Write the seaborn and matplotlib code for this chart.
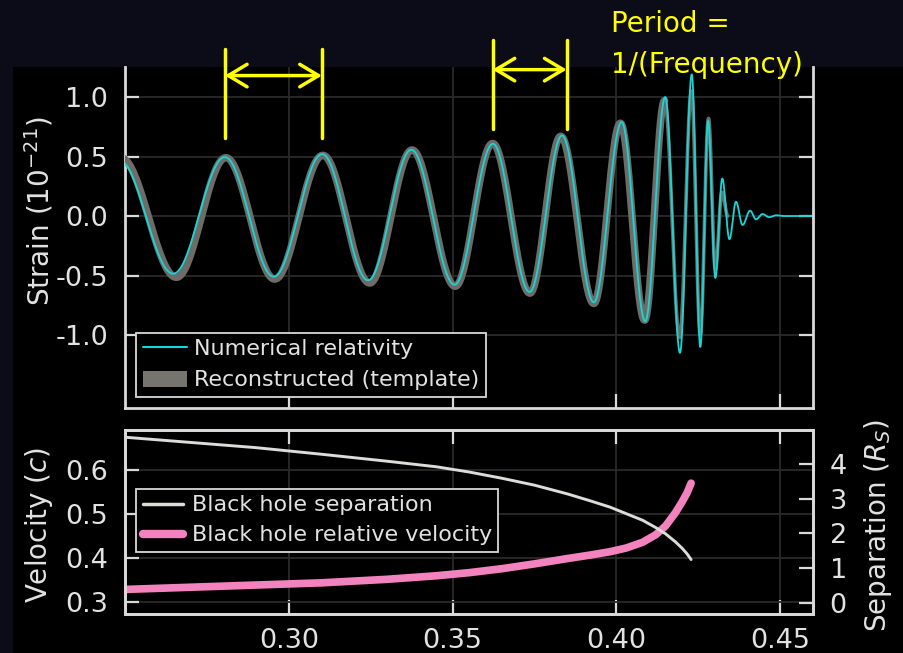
import numpy as np
import pandas as pd
import matplotlib
matplotlib.use("Agg")
import matplotlib.pyplot as plt
import seaborn as sns
from matplotlib.patches import Rectangle, Patch
from matplotlib.lines import Line2D

# ---------------- data ----------------
# Numerical relativity waveform: successive extrema (time s, strain 1e-21)
nr_time = [0.2482, 0.2647, 0.2805, 0.2954, 0.3102, 0.3242, 0.3374, 0.3506,
           0.3623, 0.3735, 0.3834, 0.3931, 0.4016, 0.4088, 0.4149, 0.4194,
           0.4230, 0.4256, 0.4280, 0.4302, 0.4323, 0.4345, 0.4365, 0.4385,
           0.4408, 0.4426, 0.4446, 0.4466, 0.4487, 0.4510, 0.4595]
nr_strain = [0.47, -0.485, 0.495, -0.51, 0.52, -0.54, 0.557, -0.577,
             0.607, -0.638, 0.677, -0.725, 0.79, -0.885, 1.00, -1.15,
             1.19, -1.10, 0.80, -0.52, 0.315, -0.195, 0.12, -0.075,
             0.045, -0.028, 0.017, -0.010, 0.006, 0.0, 0.0]

# Reconstructed template (inspiral part, thick band): successive extrema
tp_time = [0.2487, 0.2657, 0.2808, 0.2957, 0.3104, 0.3247, 0.3376, 0.3508,
           0.3622, 0.3736, 0.3830, 0.3931, 0.4012, 0.4086, 0.4147]
tp_strain = [0.49, -0.515, 0.49, -0.53, 0.51, -0.563, 0.555, -0.59,
             0.61, -0.648, 0.67, -0.735, 0.78, -0.875, 0.97]
# Reconstructed template (merger part, thin)
tp2_time = [0.4147, 0.4193, 0.4229, 0.4256, 0.4281, 0.4302, 0.4322, 0.4340]
tp2_strain = [0.97, -1.02, 1.05, -1.0, 0.82, -0.45, 0.20, 0.0]

# Lower panel
bh_time = [0.250, 0.270, 0.290, 0.310, 0.330, 0.345, 0.355, 0.365, 0.375,
           0.385, 0.392, 0.398, 0.403, 0.408, 0.412, 0.415, 0.418, 0.420,
           0.4215, 0.4228]
bh_velocity = [0.328, 0.333, 0.338, 0.343, 0.351, 0.359, 0.366, 0.375, 0.386,
               0.398, 0.406, 0.4135, 0.422, 0.435, 0.452, 0.472, 0.502, 0.526,
               0.546, 0.569]
bh_separation = [4.77, 4.62, 4.47, 4.28, 4.08, 3.92, 3.77, 3.59, 3.39,
                 3.14, 2.94, 2.76, 2.57, 2.38, 2.17, 1.99, 1.76, 1.58,
                 1.42, 1.25]

x_ticks = [0.30, 0.35, 0.40, 0.45]
x_labels = ["0.30", "0.35", "0.40", "0.45"]
strain_ticks = [1.0, 0.5, 0.0, -0.5, -1.0]
strain_labels = ["1.0", "0.5", "0.0", "-0.5", "-1.0"]
vel_ticks = [0.3, 0.4, 0.5, 0.6]
vel_labels = ["0.3", "0.4", "0.5", "0.6"]
sep_ticks = [0, 1, 2, 3, 4]
sep_labels = ["0", "1", "2", "3", "4"]

# period brackets (time of the two peaks)
bracket1 = [0.2805, 0.3101]
bracket2 = [0.3622, 0.3848]


def smooth_through_extrema(ts, hs, n=40):
    xs, ys = [], []
    for i in range(len(ts) - 1):
        u = np.linspace(0, 1, n, endpoint=False)
        xs.append(ts[i] + (ts[i + 1] - ts[i]) * u)
        ys.append((hs[i] + hs[i + 1]) / 2 + (hs[i] - hs[i + 1]) / 2 * np.cos(np.pi * u))
    xs.append([ts[-1]])
    ys.append([hs[-1]])
    return np.concatenate(xs), np.concatenate(ys)


nr_x, nr_y = smooth_through_extrema(nr_time, nr_strain)
tp_x, tp_y = smooth_through_extrema(tp_time, tp_strain)
tp2_x, tp2_y = smooth_through_extrema(tp2_time, tp2_strain)
df_nr = pd.DataFrame({"t": nr_x, "h": nr_y})
df_tp = pd.DataFrame({"t": tp_x, "h": tp_y})
df_tp2 = pd.DataFrame({"t": tp2_x, "h": tp2_y})
df_bh = pd.DataFrame({"t": bh_time, "v": bh_velocity, "s": bh_separation})

# ---------------- style ----------------
sns.set_style("dark")
plt.rcParams["font.family"] = ["DejaVu Sans"]
plt.rcParams["axes.unicode_minus"] = False
plt.rcParams["mathtext.fontset"] = "dejavusans"

SPC = "#d9d9d9"
TXT = "#e2e2e2"
CYAN = "#14d8d8"
GREY = "#6e6c68"
GREY_LEG = "#76746f"
PINK = "#f283bf"
WHITE = "#dcdcd8"
YEL = "#ffff00"
GRID = "#2a2a2a"

fig = plt.figure(figsize=(9.04, 6.53), dpi=100, facecolor="#0b0c17")
fig.patches.append(Rectangle((13 / 904, 0), 1 - 13 / 904, 1 - 67 / 653,
                             transform=fig.transFigure, facecolor="black",
                             edgecolor="none", zorder=-10))

ax1 = fig.add_axes([125 / 904, 1 - 408 / 653, 688 / 904, 341 / 653])
ax2 = fig.add_axes([125 / 904, 1 - 614 / 653, 688 / 904, 184 / 653])
ax3 = ax2.twinx()

for ax in (ax1, ax2, ax3):
    ax.set_facecolor("black")
ax3.patch.set_alpha(0)

# ---------------- top panel ----------------
sns.lineplot(data=df_tp, x="t", y="h", ax=ax1, color=GREY, lw=5.4,
             estimator=None, sort=False, zorder=3)
sns.lineplot(data=df_tp2, x="t", y="h", ax=ax1, color=GREY, lw=2.6,
             estimator=None, sort=False, zorder=3)
sns.lineplot(data=df_nr, x="t", y="h", ax=ax1, color=CYAN, lw=1.3,
             estimator=None, sort=False, zorder=4)
ax1.set_xlim(0.25, 0.46)
ax1.set_ylim(-1.613, 1.252)
ax1.set_xticks(x_ticks)
ax1.set_xticklabels([])
ax1.set_yticks(strain_ticks, strain_labels)
ax1.set_xlabel("")
ax1.set_ylabel("")
ax1.grid(True, color=GRID, lw=1.3)
ax1.spines["top"].set_visible(False)
for s in ("left", "right", "bottom"):
    ax1.spines[s].set_color(SPC)
    ax1.spines[s].set_linewidth(2)
    ax1.spines[s].set_visible(True)
ax1.tick_params(axis="both", direction="in", length=10, width=1.6, color=SPC,
                labelcolor=TXT, labelsize=19.5, pad=12)
ax1.tick_params(axis="y", left=True, right=True)
ax1.tick_params(axis="x", bottom=True, top=False, labelbottom=False)

leg1 = ax1.legend([Line2D([], [], color=CYAN, lw=1.5),
                   Patch(facecolor=GREY_LEG, edgecolor="none")],
                  ["Numerical relativity", "Reconstructed (template)"],
                  loc="lower left", bbox_to_anchor=(0.016, 0.032), borderaxespad=0,
                  frameon=True, fancybox=False, facecolor="black", edgecolor=SPC,
                  framealpha=1, fontsize=16, labelcolor=TXT, handlelength=2.0,
                  handleheight=0.72, labelspacing=0.5, borderpad=0.3,
                  handletextpad=0.3)
leg1.get_frame().set_linewidth(1.3)
leg1.set_zorder(10)

# yellow period brackets
for (xa, xb), (ytop, ybot, yarr) in ((bracket1, (1.406, 0.653, 1.18)),
                                      (bracket2, (1.481, 0.728, 1.23))):
    for xv in (xa, xb):
        ax1.plot([xv, xv], [ybot, ytop], color=YEL, lw=2.5, clip_on=False, zorder=6)
    ax1.annotate("", xy=(xb, yarr), xytext=(xa, yarr),
                 arrowprops=dict(arrowstyle="<->,head_length=0.45,head_width=0.27",
                                 color=YEL, lw=2.5, mutation_scale=30,
                                 shrinkA=0, shrinkB=0),
                 annotation_clip=False, zorder=6)

fig.text(611 / 904, 1 - 31.7 / 653, "Period =", color=YEL, fontsize=20,
         ha="left", va="baseline")
fig.text(611 / 904, 1 - 72.7 / 653, "1/(Frequency)", color=YEL, fontsize=20,
         ha="left", va="baseline", zorder=5)

# ---------------- bottom panel ----------------
sns.lineplot(data=df_bh, x="t", y="v", ax=ax2, color=PINK, lw=5.5,
             estimator=None, sort=False)
sns.lineplot(data=df_bh, x="t", y="s", ax=ax3, color=WHITE, lw=2.1,
             estimator=None, sort=False)
ax2.set_xlim(0.25, 0.46)
ax3.set_xlim(0.25, 0.46)
ax2.set_ylim(0.2723, 0.6896)
ax3.set_ylim(-0.317, 4.978)
ax2.set_xticks(x_ticks, x_labels)
ax2.set_yticks(vel_ticks, vel_labels)
ax3.set_yticks(sep_ticks, sep_labels)
for ax in (ax2, ax3):
    ax.set_xlabel("")
    ax.set_ylabel("")
ax2.grid(True, color=GRID, lw=1.3)
ax3.grid(False)
for ax in (ax2, ax3):
    for s in ("left", "right", "bottom", "top"):
        ax.spines[s].set_color(SPC)
        ax.spines[s].set_linewidth(2)
        ax.spines[s].set_visible(True)
ax2.tick_params(axis="both", direction="in", length=10, width=1.6, color=SPC,
                labelcolor=TXT, labelsize=19.5, pad=12)
ax2.tick_params(axis="x", top=True, bottom=True, pad=10)
ax2.tick_params(axis="y", left=True, right=False)
ax3.tick_params(axis="y", direction="in", length=10, width=1.6, color=SPC,
                labelcolor=TXT, labelsize=19.5, pad=12, right=True, left=False)

leg2 = ax3.legend([Line2D([], [], color=WHITE, lw=2.5), Line2D([], [], color=PINK, lw=6)],
                  ["Black hole separation", "Black hole relative velocity"],
                  loc="lower left", bbox_to_anchor=(0.016, 0.337), borderaxespad=0,
                  frameon=True, fancybox=False, facecolor="black", edgecolor=SPC,
                  framealpha=1, fontsize=16, labelcolor=TXT, handlelength=1.8,
                  labelspacing=0.45, borderpad=0.3, handletextpad=0.4)
leg2.get_frame().set_linewidth(1.3)
leg2.set_zorder(10)

# axis titles
fig.text(39 / 904, 1 - 211 / 653, "Strain ($10^{-21}$)", color=TXT, fontsize=20,
         rotation=90, ha="center", va="center")
fig.text(39 / 904, 1 - 524.5 / 653, "Velocity ($c$)", color=TXT, fontsize=20,
         rotation=90, ha="center", va="center")
fig.text(878 / 904, 1 - 525 / 653, "Separation ($R_S$)", color=TXT, fontsize=20,
         rotation=90, ha="center", va="center")

fig.savefig("out.png", dpi=100, facecolor=fig.get_facecolor())
